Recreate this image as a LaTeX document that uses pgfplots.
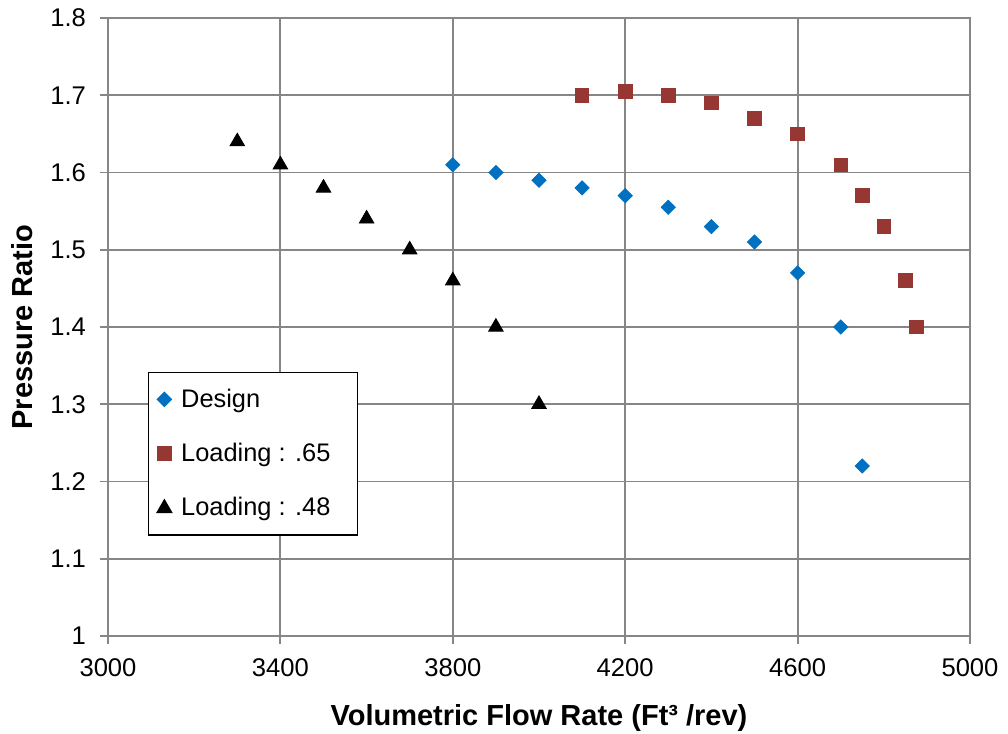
\documentclass[border=0pt]{standalone}
\usepackage{pgfplots}
\pgfplotsset{compat=1.18}
\usepackage{fontspec}
\setmainfont{Liberation Sans}
\definecolor{dblue}{RGB}{0,112,192}
\definecolor{dred}{RGB}{150,55,52}
\definecolor{gridgray}{RGB}{134,134,134}
\begin{document}
\begin{tikzpicture}
\begin{axis}[
  scale only axis,
  width=431pt, height=309pt,
  xmin=3000, xmax=5000, ymin=1, ymax=1.8,
  xtick={3000,3400,3800,4200,4600,5000},
  ytick={1,1.1,1.2,1.3,1.4,1.5,1.6,1.7,1.8},
  xtick pos=bottom, ytick pos=left,
  tick align=outside, major tick length=4pt,
  yticklabel style={/pgf/number format/fixed,/pgf/number format/precision=1, xshift=-3.5pt},
  xticklabel style={/pgf/number format/set thousands separator={}, yshift=-4pt},
  /pgf/number format/assume math mode=true,
  ticklabel style={font=\fontsize{12.8}{14}\selectfont},
  grid=major,
  major grid style={gridgray, line width=0.9pt},
  axis line style={gridgray, line width=0.9pt},
  tick style={gridgray, line width=0.9pt},
  xlabel={\textbf{Volumetric Flow Rate (Ft³ /rev)}},
  ylabel={\textbf{Pressure Ratio}},
  label style={font=\fontsize{14.5}{16}\selectfont},
  xlabel style={yshift=-7pt},
  ylabel style={yshift=2pt},
  legend style={at={(0.0464,0.427)}, anchor=north west, draw=black, line width=0.6pt,
    font=\fontsize{12.7}{14}\selectfont, row sep=12.5pt, inner xsep=4pt, inner ysep=6pt},
  legend cell align=left,
  legend image code/.code={\path (-3.6pt,0) (6.1pt,0); \draw[#1] plot coordinates {(0cm,0cm)};},
]
\coordinate (O) at (rel axis cs:0,0);
\coordinate (T) at (rel axis cs:1,1);
\addplot[only marks, mark=square*, mark size=2.5pt, color=dblue, mark options={fill=dblue, draw=dblue, rotate=45}] coordinates {
(3800,1.61) (3900,1.60) (4000,1.59) (4100,1.58) (4200,1.57) (4300,1.555)
(4400,1.53) (4500,1.51) (4600,1.47) (4700,1.40) (4750,1.22)};
\addlegendentry{Design}
\addplot[only marks, mark=square*, mark size=3.4pt, color=dred, mark options={fill=dred, draw=dred}] coordinates {
(4100,1.70) (4200,1.705) (4300,1.70) (4400,1.69) (4500,1.67) (4600,1.65)
(4700,1.61) (4750,1.57) (4800,1.53) (4850,1.46) (4875,1.40)};
\addlegendentry{Loading : .65\rule{7.5pt}{0pt}}
\addplot[only marks, mark=triangle*, mark size=4.2pt, color=black, mark options={fill=black}] coordinates {
(3300,1.64) (3400,1.61) (3500,1.58) (3600,1.54) (3700,1.50) (3800,1.46)
(3900,1.40) (4000,1.30)};
\addlegendentry{Loading : .48}
\end{axis}
\pgfresetboundingbox
\path ([shift={(-54pt,-49pt)}]O) rectangle ([shift={(19pt,9pt)}]T);
\end{tikzpicture}
\end{document}
